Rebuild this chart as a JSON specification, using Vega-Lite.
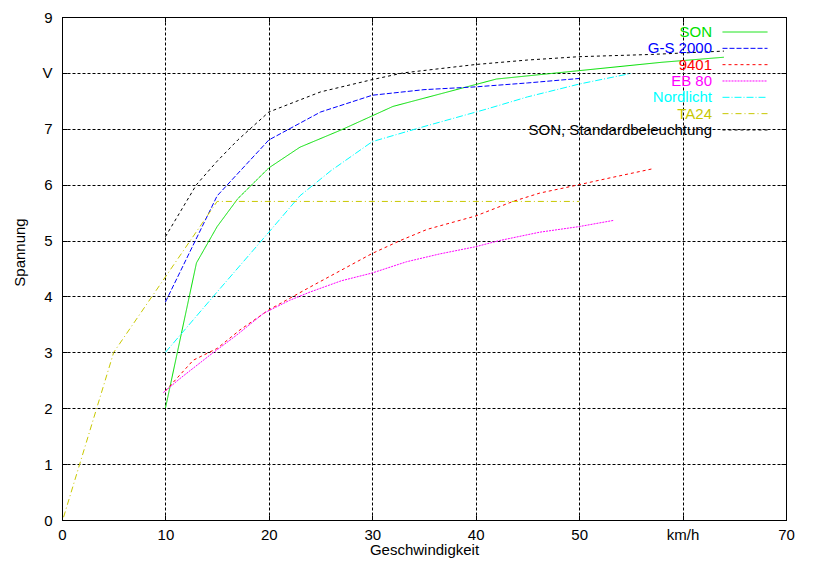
{
  "$schema": "https://vega.github.io/schema/vega-lite/v6.json",
  "width": 724,
  "height": 503,
  "autosize": "none",
  "padding": {"left": 62, "top": 17, "right": 28, "bottom": 50},
  "background": "white",
  "config": {
    "view": {"stroke": "black", "strokeWidth": 1},
    "font": "Liberation Sans",
    "axis": {
      "labelFont": "Liberation Sans", "labelFontSize": 15, "labelColor": "black",
      "titleFont": "Liberation Sans", "titleFontSize": 15, "titleFontWeight": "normal", "titleColor": "black",
      "domainColor": "black", "tickColor": "black", "labelFlush": false
    }
  },
  "data": {"values": [
    {"s": "SON", "x": 10, "y": 2.0}, {"s": "SON", "x": 13, "y": 4.6}, {"s": "SON", "x": 15, "y": 5.25}, {"s": "SON", "x": 17, "y": 5.75}, {"s": "SON", "x": 20, "y": 6.3}, {"s": "SON", "x": 23, "y": 6.67}, {"s": "SON", "x": 27, "y": 6.98}, {"s": "SON", "x": 32, "y": 7.4}, {"s": "SON", "x": 42, "y": 7.89}, {"s": "SON", "x": 50, "y": 8.04}, {"s": "SON", "x": 58, "y": 8.19}, {"s": "SON", "x": 64, "y": 8.28},
    {"s": "G-S 2000", "x": 10, "y": 3.9}, {"s": "G-S 2000", "x": 15, "y": 5.8}, {"s": "G-S 2000", "x": 20, "y": 6.8}, {"s": "G-S 2000", "x": 25, "y": 7.3}, {"s": "G-S 2000", "x": 30, "y": 7.6}, {"s": "G-S 2000", "x": 35, "y": 7.7}, {"s": "G-S 2000", "x": 40, "y": 7.75}, {"s": "G-S 2000", "x": 45, "y": 7.82}, {"s": "G-S 2000", "x": 50, "y": 7.9},
    {"s": "9401", "x": 10, "y": 2.31}, {"s": "9401", "x": 12.7, "y": 2.86}, {"s": "9401", "x": 15, "y": 3.07}, {"s": "9401", "x": 17.2, "y": 3.4}, {"s": "9401", "x": 20, "y": 3.76}, {"s": "9401", "x": 24, "y": 4.17}, {"s": "9401", "x": 27, "y": 4.47}, {"s": "9401", "x": 30, "y": 4.77}, {"s": "9401", "x": 32.7, "y": 5.0}, {"s": "9401", "x": 35.3, "y": 5.2}, {"s": "9401", "x": 40, "y": 5.44}, {"s": "9401", "x": 43.6, "y": 5.7}, {"s": "9401", "x": 46.2, "y": 5.85}, {"s": "9401", "x": 50, "y": 6.0}, {"s": "9401", "x": 52.7, "y": 6.11}, {"s": "9401", "x": 57, "y": 6.28},
    {"s": "EB 80", "x": 9.8, "y": 2.28}, {"s": "EB 80", "x": 11.4, "y": 2.53}, {"s": "EB 80", "x": 14.3, "y": 2.95}, {"s": "EB 80", "x": 16.9, "y": 3.31}, {"s": "EB 80", "x": 19.5, "y": 3.7}, {"s": "EB 80", "x": 22, "y": 3.93}, {"s": "EB 80", "x": 24, "y": 4.08}, {"s": "EB 80", "x": 27, "y": 4.28}, {"s": "EB 80", "x": 30, "y": 4.42}, {"s": "EB 80", "x": 33.3, "y": 4.62}, {"s": "EB 80", "x": 36.5, "y": 4.76}, {"s": "EB 80", "x": 40, "y": 4.89}, {"s": "EB 80", "x": 42.3, "y": 5.0}, {"s": "EB 80", "x": 46.2, "y": 5.15}, {"s": "EB 80", "x": 50, "y": 5.25}, {"s": "EB 80", "x": 53.3, "y": 5.36},
    {"s": "Nordlicht", "x": 10, "y": 3.0}, {"s": "Nordlicht", "x": 15, "y": 4.08}, {"s": "Nordlicht", "x": 20, "y": 5.15}, {"s": "Nordlicht", "x": 23, "y": 5.8}, {"s": "Nordlicht", "x": 26, "y": 6.25}, {"s": "Nordlicht", "x": 30, "y": 6.77}, {"s": "Nordlicht", "x": 35, "y": 7.04}, {"s": "Nordlicht", "x": 41, "y": 7.35}, {"s": "Nordlicht", "x": 45, "y": 7.57}, {"s": "Nordlicht", "x": 50, "y": 7.8}, {"s": "Nordlicht", "x": 55, "y": 7.99},
    {"s": "TA24", "x": 0.15, "y": 0.05}, {"s": "TA24", "x": 5, "y": 3.0}, {"s": "TA24", "x": 10, "y": 4.35}, {"s": "TA24", "x": 15, "y": 5.7}, {"s": "TA24", "x": 50, "y": 5.7},
    {"s": "SON, Standardbeleuchtung", "x": 10, "y": 5.07}, {"s": "SON, Standardbeleuchtung", "x": 13, "y": 6.0}, {"s": "SON, Standardbeleuchtung", "x": 15, "y": 6.42}, {"s": "SON, Standardbeleuchtung", "x": 17, "y": 6.8}, {"s": "SON, Standardbeleuchtung", "x": 20, "y": 7.3}, {"s": "SON, Standardbeleuchtung", "x": 25, "y": 7.66}, {"s": "SON, Standardbeleuchtung", "x": 30, "y": 7.88}, {"s": "SON, Standardbeleuchtung", "x": 33, "y": 8.0}, {"s": "SON, Standardbeleuchtung", "x": 40, "y": 8.15}, {"s": "SON, Standardbeleuchtung", "x": 45, "y": 8.23}, {"s": "SON, Standardbeleuchtung", "x": 50, "y": 8.29}, {"s": "SON, Standardbeleuchtung", "x": 57, "y": 8.33}, {"s": "SON, Standardbeleuchtung", "x": 64, "y": 8.39}
  ]},
  "layer": [
    {
      "mark": {"type": "line", "strokeWidth": 1, "clip": true},
      "encoding": {
        "x": {"field": "x", "type": "quantitative", "scale": {"domain": [0, 70], "nice": false},
          "axis": {"orient": "bottom", "title": "Geschwindigkeit", "values": [0, 10, 20, 30, 40, 50, 60, 70],
            "labelExpr": "datum.value == 60 ? 'km/h' : datum.label",
            "grid": true, "gridColor": "black", "gridDash": [3, 2], "gridOpacity": 1, "gridWidth": 1,
            "tickSize": -5, "labelPadding": 12, "titlePadding": 0}},
        "y": {"field": "y", "type": "quantitative", "scale": {"domain": [0, 9], "nice": false},
          "axis": {"orient": "left", "title": "Spannung", "values": [0, 1, 2, 3, 4, 5, 6, 7, 8, 9],
            "labelExpr": "datum.value == 8 ? 'V' : datum.label",
            "grid": true, "gridColor": "black", "gridDash": [3, 2], "gridOpacity": 1, "gridWidth": 1,
            "tickSize": -5, "labelPadding": 15, "titlePadding": 14, "titleY": 235}},
        "color": {"field": "s", "type": "nominal",
          "scale": {"domain": ["SON", "G-S 2000", "9401", "EB 80", "Nordlicht", "TA24", "SON, Standardbeleuchtung"],
            "range": ["#00e000", "#0000ff", "#ff0000", "#ff00ff", "#00ffff", "#c8c800", "#000000"]},
          "legend": {"title": null, "orient": "none", "legendX": 675, "legendY": 7, "padding": 0,
            "symbolType": "M -3 0 L 3 0", "symbolSize": 225, "symbolStrokeWidth": 1,
            "labelFont": "Liberation Sans", "labelFontSize": 15, "rowPadding": 0.33, "labelLimit": 400,
            "labelAlign": "right",
            "encode": {"labels": {"update": {"x": {"value": -25}, "fill": {"scale": "color", "field": "value"}}}}}},
        "strokeDash": {"field": "s", "type": "nominal",
          "scale": {"domain": ["SON", "G-S 2000", "9401", "EB 80", "Nordlicht", "TA24", "SON, Standardbeleuchtung"],
            "range": [[1, 0], [5, 2], [3, 3], [2, 1], [7, 2, 1, 2], [6, 3, 1, 3], [3, 3]]},
          "legend": {"title": null, "orient": "none", "legendX": 675, "legendY": 7, "padding": 0,
            "symbolType": "M -3 0 L 3 0", "symbolSize": 225, "symbolStrokeWidth": 1,
            "labelFont": "Liberation Sans", "labelFontSize": 15, "rowPadding": 0.33, "labelLimit": 400,
            "labelAlign": "right",
            "encode": {"labels": {"update": {"x": {"value": -25}, "fill": {"scale": "color", "field": "value"}}}}}},
        "order": {"field": "x", "type": "quantitative"}
      }
    },
    {
      "mark": {"type": "line", "opacity": 0},
      "encoding": {
        "x": {"field": "x", "type": "quantitative", "axis": {"orient": "top", "title": null, "labels": false, "grid": false, "tickSize": -5, "values": [0, 10, 20, 30, 40, 50, 60, 70]}},
        "y": {"field": "y", "type": "quantitative", "axis": {"orient": "right", "title": null, "labels": false, "grid": false, "tickSize": -5, "values": [0, 1, 2, 3, 4, 5, 6, 7, 8, 9]}},
        "detail": {"field": "s"},
        "order": {"field": "x", "type": "quantitative"}
      }
    }
  ]
}
